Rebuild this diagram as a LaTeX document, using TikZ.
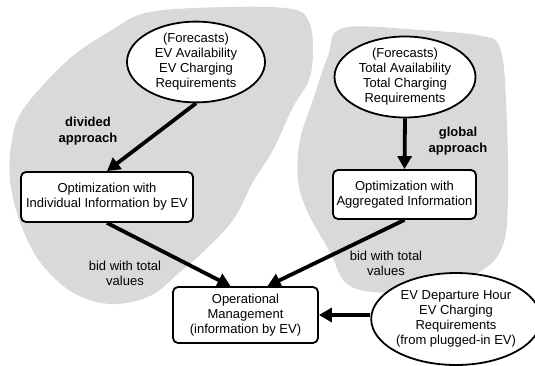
\documentclass[tikz,border=0pt]{standalone}
\usepackage{fontspec}
\setmainfont{Liberation Sans}
\usetikzlibrary{shapes, arrows.meta}

\begin{document}
\begin{tikzpicture}[
  x=1pt, y=-1pt,
  every node/.style={font=\fontsize{13}{15}\selectfont},
  source/.style={ellipse, draw, line width=1.8pt, fill=white, inner sep=0pt, align=center},
  block/.style={rectangle, draw, rounded corners=5pt, line width=1.8pt, fill=white, inner sep=0pt, align=center},
  ann/.style={align=center},
  annbold/.style={align=center, font=\fontsize{13}{16}\selectfont\bfseries},
  arrow/.style={-{Triangle[length=13pt, width=14pt]}, line width=3.8pt},
  area/.style={fill=gray!30},
]
\useasboundingbox (0,0) rectangle (535,366);

% Grey areas
\fill[area] plot[smooth cycle, tension=0.6] coordinates {
  (150,12) (230,7) (292,9) (309,22) (313,50) (309,80) (293,107) (273,150)
  (253,182) (233,220) (203,252) (180,272) (150,296) (110,304) (72,292)
  (40,262) (20,222) (10,180) (12,140) (24,108) (68,60) (112,30)};
\fill[area] plot[smooth cycle, tension=0.6] coordinates {
  (343,28) (420,30) (482,36) (500,48) (506,100) (508,200) (501,250)
  (472,276) (420,290) (372,292) (345,282) (330,252) (308,213) (298,180)
  (300,140) (313,100) (328,56)};

% Divided approach
\node[source, minimum width=138pt, minimum height=74pt] (fcind) at (196,62)
  {(Forecasts)\\EV Availability\\EV Charging\\Requirements};
\node[block, minimum width=172pt, minimum height=50pt] (optind) at (107,197)
  {Optimization with\\Individual Information by EV};

% Global approach
\node[source, minimum width=141pt, minimum height=81pt] (fcagg) at (405,77)
  {(Forecasts)\\Total Availability\\Total Charging\\Requirements};
\node[block, minimum width=143pt, minimum height=49pt] (optagg) at (404.5,194.5)
  {Optimization with\\Aggregated Information};

% Operation
\node[block, minimum width=145pt, minimum height=56pt] (opman) at (245.5,315)
  {Operational\\Management\\(information by EV)};
\node[source, minimum width=156pt, minimum height=92pt] (depinfo) at (456,319)
  {EV Departure Hour\\EV Charging\\Requirements\\(from plugged-in EV)};

% Annotations
\node[annbold] (lbldiv) at (88,131) {divided\\approach};
\node[annbold] (lblglob) at (458,141) {global\\approach};
\node[ann] (bidind) at (125,273) {bid with total\\values};
\node[ann] (bidagg) at (386,263) {bid with total\\values};

% Connections
\draw[arrow] (fcind.south) -- (optind.north);
\draw[arrow] (fcagg.south) -- (optagg.north);
\draw[arrow] (optind.south) -- ([xshift=-15pt]opman.north);
\draw[arrow] (optagg.south) -- ([xshift=22pt]opman.north);
\draw[arrow] (depinfo.west |- opman.east) -- (opman.east);

\end{tikzpicture}
\end{document}
